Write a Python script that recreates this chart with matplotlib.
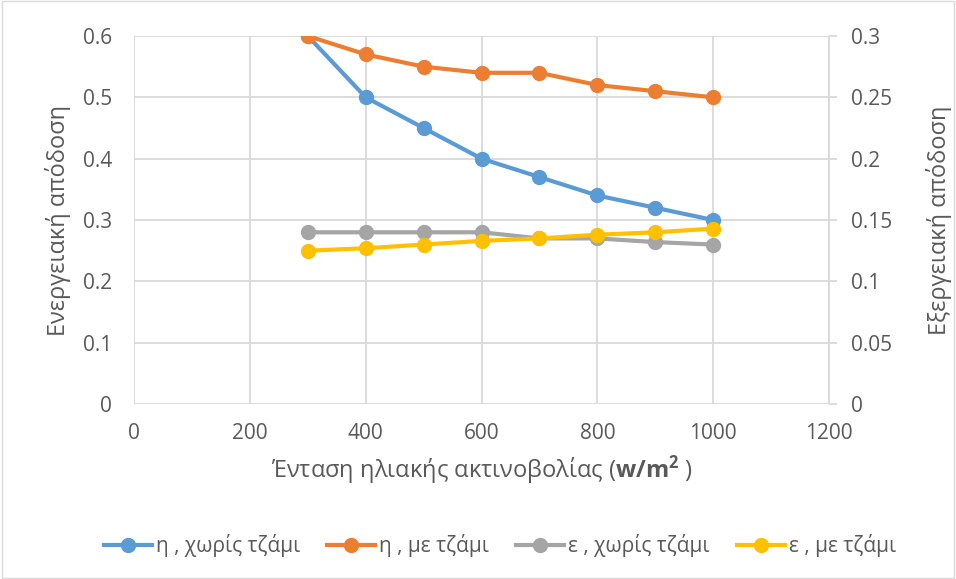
import numpy as np
import matplotlib.pyplot as plt
from matplotlib.patches import Rectangle

plt.rcParams['font.family'] = ['Open Sans', 'DejaVu Sans']
plt.rcParams['mathtext.fontset'] = 'custom'
plt.rcParams['mathtext.rm'] = 'Open Sans'
plt.rcParams['mathtext.bf'] = 'Open Sans:bold'

# data
G = [300, 400, 500, 600, 700, 800, 900, 1000]
eta_no_glass = [0.60, 0.50, 0.45, 0.40, 0.37, 0.34, 0.32, 0.30]
eta_glass = [0.60, 0.57, 0.55, 0.54, 0.54, 0.52, 0.51, 0.50]
ex_no_glass = [0.140, 0.140, 0.140, 0.140, 0.135, 0.135, 0.132, 0.130]
ex_glass = [0.125, 0.127, 0.130, 0.133, 0.135, 0.138, 0.140, 0.143]

txt = '#595959'
grid = '#d9d9d9'

fig = plt.figure(figsize=(9.56, 5.79), dpi=100)
ax = fig.add_axes([0.1402, 0.3022, 0.727, 0.6356])
ax2 = ax.twinx()

ms = 10
lw = 3
l1, = ax.plot(G, eta_no_glass, '-o', color='#5B9BD5', lw=lw, ms=ms, label='η , χωρίς τζάμι')
l2, = ax.plot(G, eta_glass, '-o', color='#ED7D31', lw=lw, ms=ms, label='η , με τζάμι')
l3, = ax2.plot(G, ex_no_glass, '-o', color='#A5A5A5', lw=lw, ms=ms, label='ε , χωρίς τζάμι')
l4, = ax2.plot(G, ex_glass, '-o', color='#FFC000', lw=lw, ms=ms, label='ε , με τζάμι')

ax.set_xlim(0, 1200)
ax.set_ylim(0, 0.6)
ax2.set_ylim(0, 0.3)
ax.set_xticks(np.arange(0, 1201, 200))
ax.set_yticks(np.arange(0, 0.61, 0.1))
ax.set_yticklabels(['0', '0.1', '0.2', '0.3', '0.4', '0.5', '0.6'])
ax2.set_yticks(np.arange(0, 0.301, 0.05))
ax2.set_yticklabels(['0', '0.05', '0.1', '0.15', '0.2', '0.25', '0.3'])

ax.grid(True, color=grid, lw=1.3)
ax.set_axisbelow(True)
for a in (ax, ax2):
    for s in a.spines.values():
        s.set_visible(False)
    a.tick_params(length=0, labelsize=15, colors=txt)
ax2.spines['right'].set_visible(True)
ax2.spines['right'].set_color(grid)
ax2.spines['right'].set_linewidth(1.3)
ax2.tick_params(axis='y', length=6, width=1.3, color=grid, direction='out', pad=10)
ax.tick_params(axis='y', pad=16)
ax.tick_params(axis='x', pad=14)

ax.set_ylabel('Ενεργειακή απόδοση', fontsize=17, color=txt, labelpad=8)
ax2.set_ylabel('Εξεργειακή απόδοση', fontsize=17, color=txt, labelpad=24)
ax.set_xlabel(r'Ένταση ηλιακής ακτινοβολίας ($\mathbf{w/m^2}$ )', fontsize=17, color=txt, labelpad=7)

fig.legend(handles=[l1, l2, l3, l4], loc='center', bbox_to_anchor=(0.523, 0.057), ncol=4,
           frameon=False, fontsize=15, labelcolor=txt, handlelength=2.3, columnspacing=1.3,
           handletextpad=0.2)

fig.patches.append(Rectangle((0.002, 0.002), 0.996, 0.996, transform=fig.transFigure,
                             fill=False, edgecolor='#d9d9d9', lw=1))

fig.savefig('out.png', dpi=100)
